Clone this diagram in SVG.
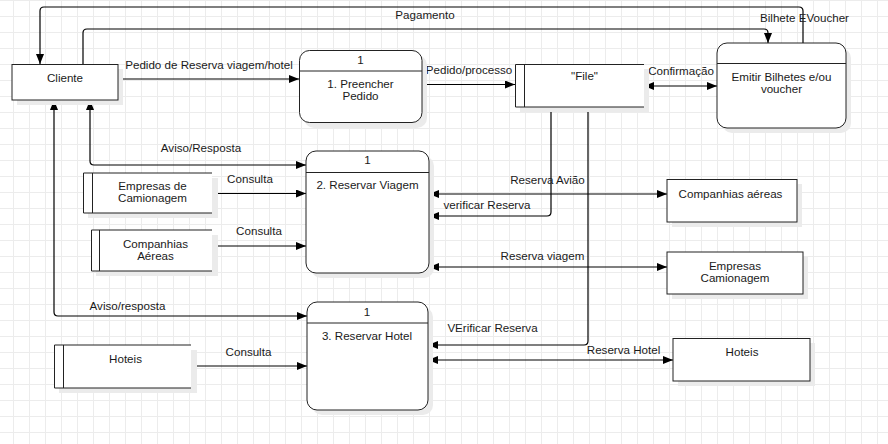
<svg xmlns="http://www.w3.org/2000/svg" width="888" height="444" viewBox="0 0 888 444">
<style>
text{font-family:"Liberation Sans",Arial,sans-serif;font-size:11.6px;fill:#1a1a1a;text-anchor:middle}
.box{fill:#fff;stroke:#222;stroke-width:1}
.sh{fill:#ebebeb}
.ln{fill:none;stroke:#222;stroke-width:1}
.c{fill:none;stroke:#000;stroke-width:1.2}
.e{marker-end:url(#ar)}
.b{marker-start:url(#ar);marker-end:url(#ar)}
</style>
<defs>
<pattern id="grid" x="13" y="0" width="16" height="16" patternUnits="userSpaceOnUse">
<path d="M0.5 0V16M0 0.5H16" stroke="#ececec" stroke-width="1" fill="none"/>
</pattern>
<marker id="ar" viewBox="0 0 10 8" refX="10" refY="4" markerWidth="10" markerHeight="8" markerUnits="userSpaceOnUse" orient="auto-start-reverse">
<path d="M0,0L10,4L0,8Z" fill="#000"/>
</marker>
</defs>
<rect width="888" height="444" fill="#fff"/>
<rect width="888" height="444" fill="url(#grid)"/>

<g id="connectors">
<path class="c e" d="M118,79H299"/>
<path class="c e" d="M422,84.5H515"/>
<path class="c b" d="M644,86H717"/>
<path class="c e" d="M803,43V11Q803,7 799,7H44Q40,7 40,11V64"/>
<path class="c e" d="M83,64V33Q83,29 87,29H764Q768,29 768,33V43"/>
<path class="c b" d="M90,100V161Q90,165 94,165H306"/>
<path class="c b" d="M54,100V312Q54,316 58,316H307"/>
<path class="c e" d="M212,193.5H306"/>
<path class="c e" d="M212,246H306"/>
<path class="c b" d="M429,194H667"/>
<path class="c e" d="M551,107V212Q551,216 547,216H429"/>
<path class="c b" d="M429,267H667"/>
<path class="c e" d="M588,107V341Q588,345 584,345H428"/>
<path class="c e" d="M191,366H307"/>
<path class="c b" d="M428,360H673" stroke-width="2"/>
<text x="209" y="68.5">Pedido de Reserva viagem/hotel</text>
<text x="469" y="74">Pedido/processo</text>
<text x="681" y="75">Confirmação</text>
<text x="425" y="19">Pagamento</text>
<text x="804.5" y="22">Bilhete EVoucher</text>
<text x="201" y="151.5">Aviso/Resposta</text>
<text x="250" y="182.5">Consulta</text>
<text x="259" y="235">Consulta</text>
<text x="547.5" y="184">Reserva Avião</text>
<text x="487" y="208.5">verificar Reserva</text>
<text x="542.5" y="260">Reserva viagem</text>
<text x="127.5" y="309.5">Aviso/resposta</text>
<text x="248.5" y="356">Consulta</text>
<text x="492.5" y="332">VErificar Reserva</text>
<text x="623.5" y="354">Reserva Hotel</text>
</g>

<g id="cliente">
<rect class="sh" x="17" y="69" width="106" height="36"/>
<rect class="box" x="12" y="64.5" width="106" height="35.5"/>
<text x="65" y="82">Cliente</text>
</g>

<g id="p1">
<rect class="sh" x="304" y="55" width="123" height="73" rx="10"/>
<rect class="box" x="299.5" y="50.5" width="122.5" height="72" rx="10"/>
<path class="ln" d="M299.5,71H422"/>
<text x="360.5" y="64">1</text>
<text x="360.5" y="87.5">1. Preencher</text>
<text x="360.5" y="100">Pedido</text>
</g>

<g id="file">
<rect class="sh" x="520" y="69" width="129" height="43"/>
<rect x="515" y="64.5" width="129" height="42.5" fill="#fff"/>
<path class="ln" d="M644,64.5H515.5V107H644M524.5,64.5V107"/>
<text x="584.5" y="80">"File"</text>
</g>

<g id="emitir">
<rect class="sh" x="722" y="48" width="129" height="85" rx="10"/>
<rect class="box" x="717" y="43" width="129" height="85" rx="10"/>
<path class="ln" d="M717,63.5H846"/>
<text x="781.5" y="80.5">Emitir Bilhetes e/ou</text>
<text x="781.5" y="92.5">voucher</text>
</g>

<g id="p2">
<rect class="sh" x="311" y="156" width="123" height="122" rx="10"/>
<rect class="box" x="306" y="151" width="123" height="122" rx="10"/>
<path class="ln" d="M306,172.5H429"/>
<text x="367.5" y="164">1</text>
<text x="367.5" y="188.5">2. Reservar Viagem</text>
</g>

<g id="p3">
<rect class="sh" x="312" y="307" width="121" height="108" rx="10"/>
<rect class="box" x="307" y="302" width="121" height="108" rx="10"/>
<path class="ln" d="M307,323H428"/>
<text x="367" y="316">1</text>
<text x="367" y="340">3. Reservar Hotel</text>
</g>

<g id="empresas-camionagem-store">
<rect class="sh" x="88" y="178" width="130" height="40"/>
<rect x="83" y="173" width="129" height="40" fill="#fff"/>
<path class="ln" d="M212,173H83.5V213H212M92.5,173V213"/>
<text x="152.5" y="189.5">Empresas de</text>
<text x="152.5" y="201.5">Camionagem</text>
</g>

<g id="companhias-aereas-store">
<rect class="sh" x="96" y="235" width="122" height="41"/>
<rect x="91" y="230" width="121" height="41" fill="#fff"/>
<path class="ln" d="M212,230H91.5V271H212M99.5,230V271"/>
<text x="155.5" y="247.5">Companhias</text>
<text x="155.5" y="259.5">Aéreas</text>
</g>

<g id="hoteis-store">
<rect class="sh" x="59" y="350" width="138" height="43"/>
<rect x="54" y="345" width="137" height="43" fill="#fff"/>
<path class="ln" d="M191,345H54.5V388H191M63.5,345V388"/>
<text x="125.5" y="363">Hoteis</text>
</g>

<g id="companhias-aereas">
<rect class="sh" x="672" y="184" width="130" height="43"/>
<rect class="box" x="667" y="179.5" width="130" height="42.5"/>
<text x="730.5" y="198">Companhias aéreas</text>
</g>

<g id="empresas-camionagem">
<rect class="sh" x="672" y="257" width="136" height="42"/>
<rect class="box" x="667" y="252" width="136" height="42"/>
<text x="735" y="269.5">Empresas</text>
<text x="735" y="281.5">Camionagem</text>
</g>

<g id="hoteis">
<rect class="sh" x="678" y="343" width="137" height="43"/>
<rect class="box" x="673" y="338.5" width="137" height="42.5"/>
<text x="742" y="356">Hoteis</text>
</g>
</svg>
